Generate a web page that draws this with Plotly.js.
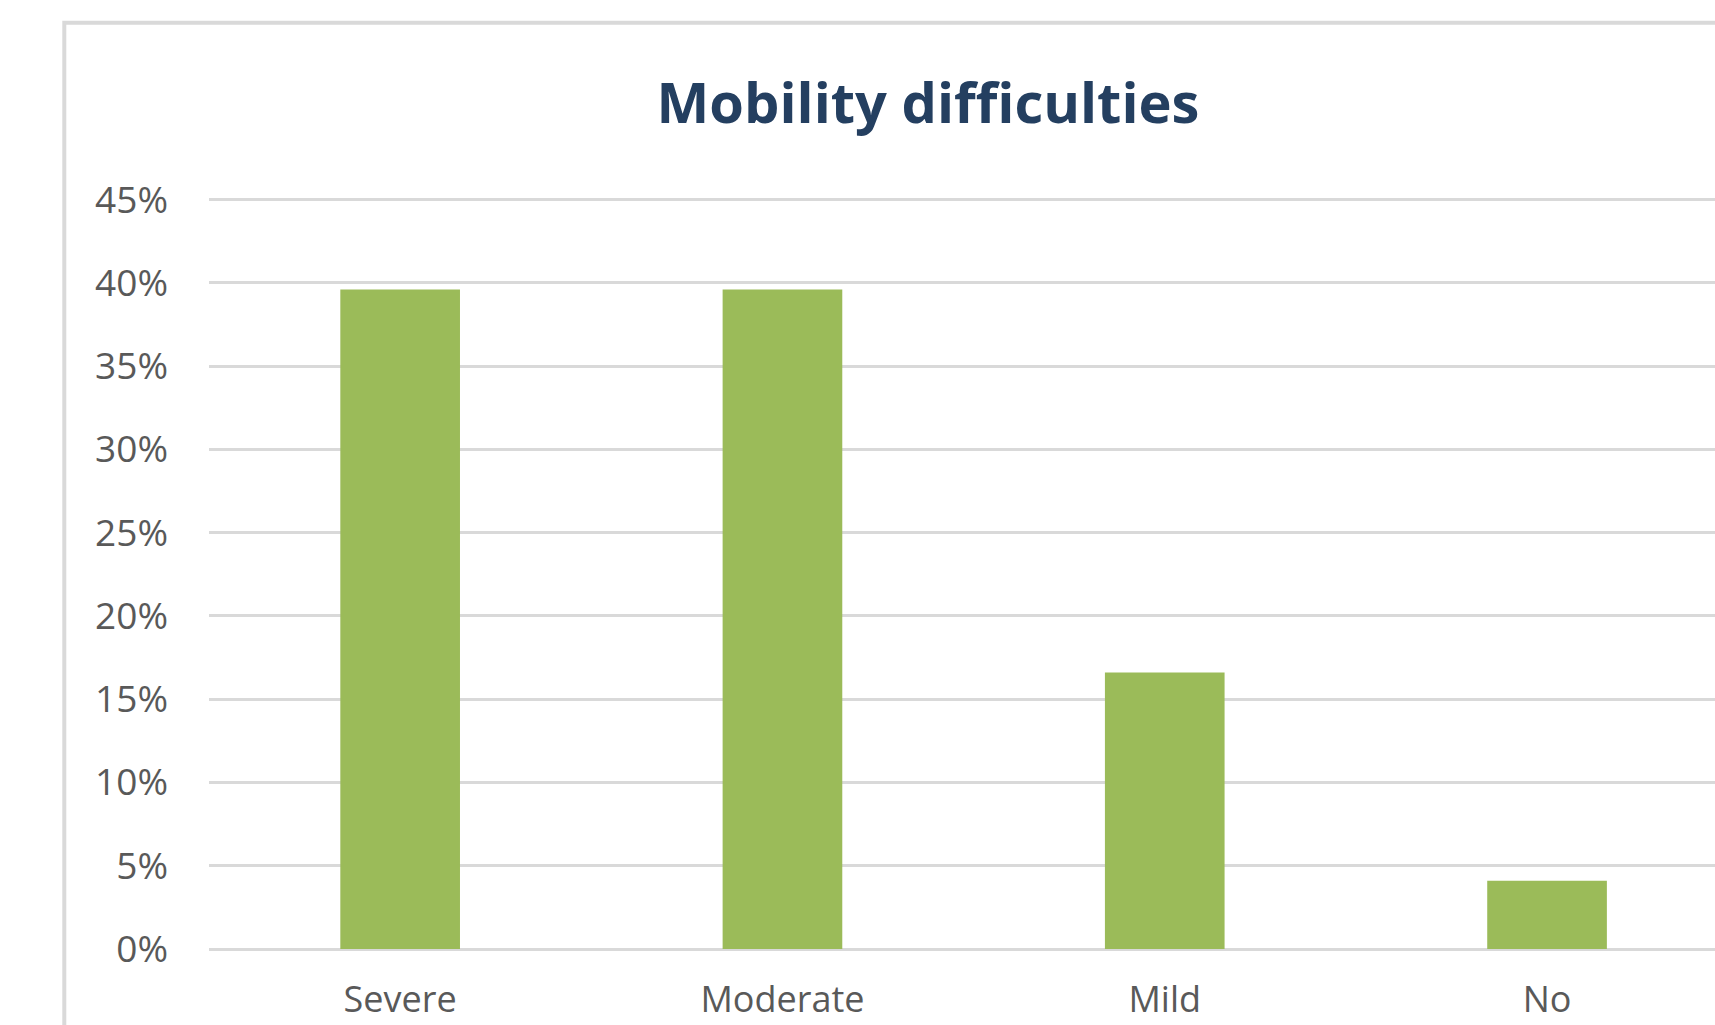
<!DOCTYPE html>
<html>
<head>
<meta charset="utf-8">
<script src="https://cdn.plot.ly/plotly-3.0.1.min.js"></script>
<style>
  html, body { margin: 0; padding: 0; background: #ffffff; }
  #chart { width: 1715px; height: 1025px; }
</style>
</head>
<body>
<div id="chart"></div>
<script>
// Share of respondents by level of mobility difficulty
const categories = ['Severe', 'Moderate', 'Mild', 'No'];
const shares = [0.396, 0.396, 0.166, 0.041];

// Value axis ticks
const yTickValues = [0, 0.05, 0.10, 0.15, 0.20, 0.25, 0.30, 0.35, 0.40, 0.45];
const yTickLabels = ['0%', '5%', '10%', '15%', '20%', '25%', '30%', '35%', '40%', '45%'];

const W = 1715, H = 1025;
const marginL = 209, marginR = 0, marginB = 76;
const yMax = 0.46;
const zeroPx = H - marginB;                 // pixel row of the 0% line
const plotH = (zeroPx - 200) * yMax / 0.45; // 45% line sits at y = 200
const marginT = zeroPx - plotH;
const plotW = W - marginL - marginR;
const bandPx = 382.3;                        // width of one category band
const xEnd = -0.5 + plotW / bandPx;

// outer chart frame, positioned in paper units
const frameLeftPx = 64.3, frameTopPx = 23.3;
const frameX0 = (frameLeftPx - marginL) / plotW;
const frameY1 = (zeroPx - frameTopPx) / plotH;

const trace = {
  type: 'bar',
  x: categories,
  y: shares,
  marker: { color: '#9BBB59', line: { width: 0 } },
  hoverinfo: 'x+y'
};

const layout = {
  width: W,
  height: H,
  margin: { l: marginL, r: marginR, t: marginT, b: marginB, pad: 0 },
  paper_bgcolor: '#ffffff',
  plot_bgcolor: '#ffffff',
  showlegend: false,
  bargap: 0.687,
  font: { family: '"Open Sans", sans-serif', color: '#595959' },
  title: {
    text: 'Mobility difficulties',
    font: { family: '"Open Sans", sans-serif', size: 56, weight: 700, color: '#243F60' },
    xref: 'paper',
    x: (928 - marginL) / plotW,
    xanchor: 'center',
    yref: 'container',
    y: 1 - 103 / H,
    yanchor: 'middle'
  },
  xaxis: {
    type: 'category',
    range: [-0.5, xEnd],
    showgrid: false,
    zeroline: false,
    showline: false,
    ticks: '',
    tickfont: { size: 36, color: '#595959' },
    ticklabelstandoff: 26,
    fixedrange: true
  },
  yaxis: {
    range: [0, yMax],
    tickvals: yTickValues,
    ticktext: yTickLabels,
    showgrid: true,
    gridcolor: '#d9d9d9',
    gridwidth: 3,
    zeroline: true,
    zerolinecolor: '#d9d9d9',
    zerolinewidth: 3,
    showline: false,
    ticks: '',
    tickfont: { size: 37, color: '#595959' },
    ticklabelstandoff: 40,
    fixedrange: true
  },
  shapes: [{
    type: 'rect',
    xref: 'paper', yref: 'paper',
    x0: frameX0, x1: 1.2,
    y0: -0.3, y1: frameY1,
    line: { color: '#d9d9d9', width: 4 },
    fillcolor: 'rgba(0,0,0,0)',
    layer: 'below'
  }]
};

Plotly.newPlot('chart', [trace], layout, { displayModeBar: false, staticPlot: true });
</script>
</body>
</html>
